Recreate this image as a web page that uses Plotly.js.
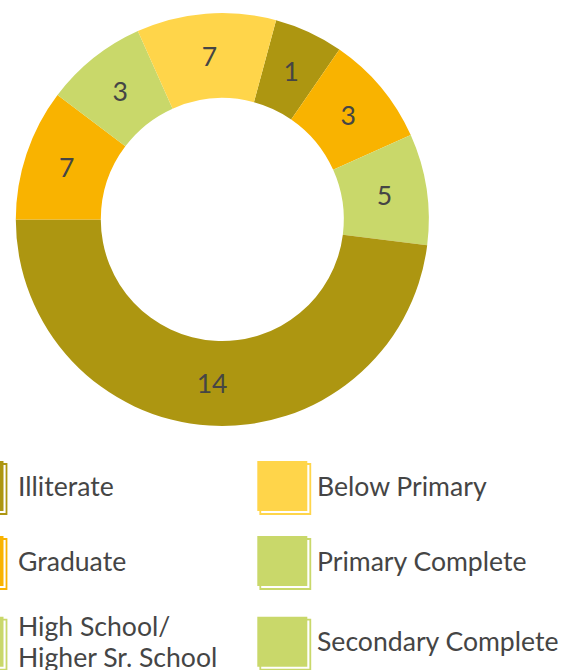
<!DOCTYPE html>
<html><head><meta charset="utf-8">
<script src="https://cdn.plot.ly/plotly-3.0.1.min.js"></script>
<style>html,body{margin:0;padding:0;background:#fff;overflow:hidden}</style>
</head><body><div id="chart" style="width:573px;height:670px"></div>
<script>
// ---- data (slices listed clockwise, starting just right of 12 o'clock) ----
const sliceCategories = ["Illiterate", "Graduate", "Primary Complete", "Illiterate", "Graduate", "Secondary Complete", "Below Primary"];
const sliceCounts = [1, 3, 5, 14, 7, 3, 7];                   // numbers printed on the slices
const sliceShares = [5.4, 8.7, 8.7, 48.0, 10.3, 8.0, 10.9];   // slice sizes read from the arcs (%)
const legendCategories = ["Illiterate", "Below Primary", "Graduate", "Primary Complete", "High School/Higher Sr. School", "Secondary Complete"];

// ---- styling ----
const categoryColors = {
  "Illiterate": "#ad9611",
  "Below Primary": "#ffd54a",
  "Graduate": "#f9b300",
  "Primary Complete": "#c9d86a",
  "High School/Higher Sr. School": "#c9d86a",
  "Secondary Complete": "#c9d86a"
};
const W = 573, H = 670;
const FONT = "Lato, 'Open Sans', sans-serif";
const TEXT = "#454545";
const FSIZE = 26.6;
const px = x => x / W;
const py = y => 1 - y / H;

const cx = 222.3, cy = 219.5, rOuter = 206.5, rInner = 121.5;
const rotation = 15.1;
const sliceLabels = sliceCategories.map((c, i) => c + " #" + (i + 1));
const sliceColors = sliceCategories.map(c => categoryColors[c]);

// ring
const ring = {
  type: "pie",
  labels: sliceLabels,
  values: sliceShares,
  sort: false,
  direction: "clockwise",
  rotation: rotation,
  hole: rInner / rOuter,
  domain: {x: [px(cx - rOuter), px(cx + rOuter)], y: [py(cy + rOuter), py(cy - rOuter)]},
  marker: {colors: sliceColors, line: {width: 0}},
  textinfo: "none",
  hoverinfo: "skip",
  showlegend: false
};
// transparent label ring so that every number sits at mid-ring
const rMid = (rOuter + rInner) / 2;
const rText = rMid / (1 - 0.144);
const labelRing = {
  type: "pie",
  labels: sliceLabels,
  values: sliceShares,
  text: sliceCounts.map(String),
  sort: false,
  direction: "clockwise",
  rotation: rotation,
  hole: 1 - 2 * 0.144,
  domain: {x: [px(cx - rText), px(cx + rText)], y: [py(cy + rText), py(cy - rText)]},
  marker: {colors: sliceLabels.map(() => "rgba(0,0,0,0)"), line: {width: 0}},
  textinfo: "text",
  textposition: "inside",
  insidetextorientation: "horizontal",
  textfont: {family: FONT, size: FSIZE, color: TEXT},
  hoverinfo: "skip",
  showlegend: false
};

// ---- custom legend (two columns, row-major) ----
const colSwatchX = [-46.5, 257.3];
const colTextX = [16.5, 316];
const rowSwatchY = [461, 536, 616.7];
const shapes = [], annotations = [];
legendCategories.forEach((cat, i) => {
  const row = Math.floor(i / 2), col = i % 2;
  const x0 = colSwatchX[col], y0 = rowSwatchY[row];
  const color = categoryColors[cat];
  shapes.push({type: "rect", xref: "paper", yref: "paper", layer: "above",
    x0: px(x0 + 3), x1: px(x0 + 53), y0: py(y0 + 3), y1: py(y0 + 53),
    line: {color: color, width: 1.8}, fillcolor: "rgba(0,0,0,0)"});
  shapes.push({type: "rect", xref: "paper", yref: "paper", layer: "above",
    x0: px(x0), x1: px(x0 + 50), y0: py(y0), y1: py(y0 + 50),
    line: {width: 0}, fillcolor: color});
  const lines = cat.length > 20 ? cat.replace("/", "/\n").split("\n") : [cat];
  const cMid = y0 + 24.5;
  const step = 31;
  lines.forEach((ln, k) => {
    const yc = cMid + (k - (lines.length - 1) / 2) * step;
    annotations.push({xref: "paper", yref: "paper", x: px(colTextX[col]), y: py(yc),
      xanchor: "left", yanchor: "middle", showarrow: false, borderpad: 0,
      text: ln, font: {family: FONT, size: FSIZE, color: TEXT}});
  });
});

Plotly.newPlot("chart", [ring, labelRing], {
  width: W, height: H,
  margin: {l: 0, r: 0, t: 0, b: 0},
  paper_bgcolor: "#ffffff",
  plot_bgcolor: "#ffffff",
  showlegend: false,
  shapes: shapes,
  annotations: annotations
}, {displayModeBar: false, staticPlot: true});
</script>
</body></html>
